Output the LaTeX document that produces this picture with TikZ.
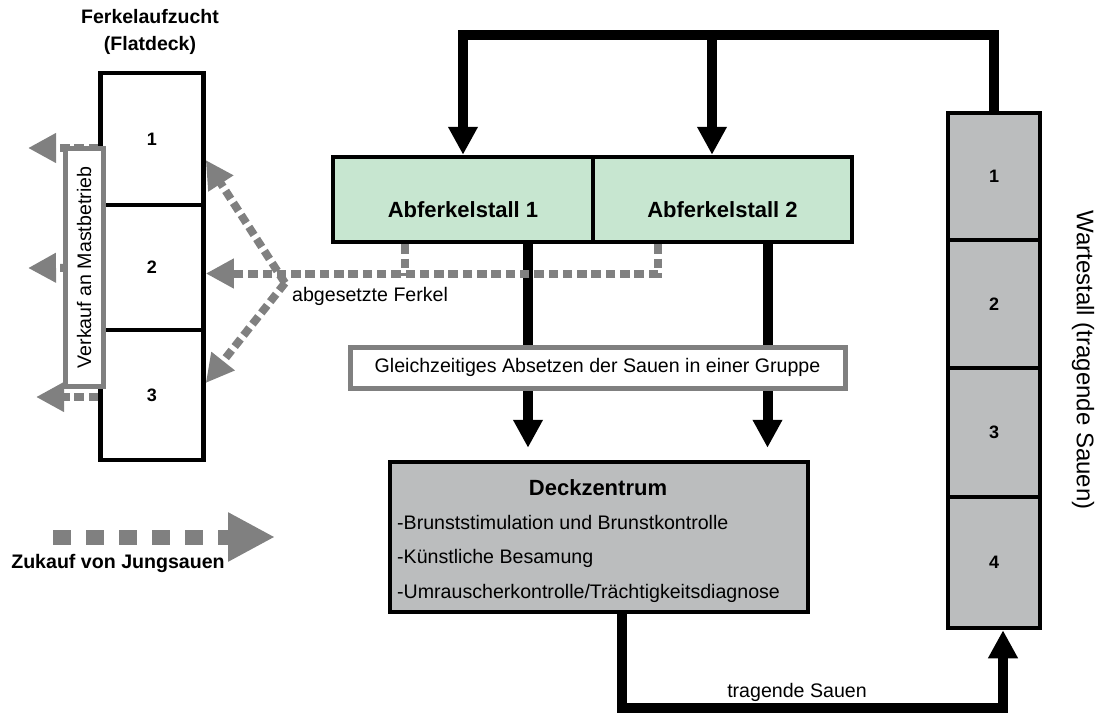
\documentclass[tikz,border=0pt]{standalone}
\usepackage{fontspec}
\setmainfont{Liberation Sans}
\usepackage{tikz}
\usetikzlibrary{arrows.meta}
\usepackage{xcolor}
\definecolor{stallgreen}{RGB}{199,230,208}
\definecolor{stallgrey}{RGB}{187,189,190}
\newcommand{\flowgrey}{black!50}
\newcommand{\textsmall}{\fontsize{19.6}{22}\selectfont}
\newcommand{\textbig}{\fontsize{22}{25}\selectfont}

\begin{document}
\begin{tikzpicture}[x=1pt,y=-1pt,inner sep=0pt,>={Triangle[length=28pt,width=28pt]}]
    \tikzstyle{cell}=[draw=black,line width=4.5pt,rectangle]
    \tikzstyle{flow}=[draw=black,line width=10pt]
    \tikzstyle{greyflow}=[draw=\flowgrey,line width=8pt,dash pattern=on 9.5pt off 4.8pt]
    \tikzset{greybox/.style={draw=\flowgrey,line width=5pt,fill=white}}
    \tikzset{number/.style={font=\fontsize{18}{20}\selectfont\bfseries}}
    \useasboundingbox (0,0) rectangle (1100,716);

    % Flatdeck
    \node[align=center,font=\fontsize{19.5}{27}\selectfont\bfseries] (flatdeck) at (150,32) {Ferkelaufzucht\\(Flatdeck)};
    \node[cell,minimum width=103,minimum height=132,number] (fd1) at (152,139) {1};
    \node[cell,minimum width=103,minimum height=125,number] (fd2) at (152,267.5) {2};
    \node[cell,minimum width=103,minimum height=130,number] (fd3) at (152,395) {3};

    % Abferkelstall
    \node[cell,fill=stallgreen,minimum width=260,minimum height=85,text height=36pt,text depth=0pt,font=\textbig\bfseries] (af1) at (463,199.5) {Abferkelstall 1};
    \node[cell,fill=stallgreen,minimum width=259,minimum height=85,text height=36pt,text depth=0pt,font=\textbig\bfseries] (af2) at (722.5,199.5) {Abferkelstall 2};

    % Wartestall
    \node[cell,fill=stallgrey,minimum width=92,minimum height=127,number] (ws1) at (994,176.5) {1};
    \node[cell,fill=stallgrey,minimum width=92,minimum height=128,number] (ws2) at (994,304) {2};
    \node[cell,fill=stallgrey,minimum width=92,minimum height=129,number] (ws3) at (994,432.5) {3};
    \node[cell,fill=stallgrey,minimum width=92,minimum height=131,number] (ws4) at (994,562.5) {4};
    \node[rotate=-90,font=\fontsize{24}{27}\selectfont] (warte) at (1083,360) {Wartestall (tragende Sauen)};

    % Deckzentrum
    \node[cell,fill=stallgrey,minimum width=418,minimum height=150] (deck) at (599,537) {};
    \node[font=\fontsize{22}{25}\selectfont\bfseries] (decktitle) at (598,488) {Deckzentrum};
    \node[anchor=west,font=\textsmall] (deck1) at (397,522) {-Brunststimulation und Brunstkontrolle};
    \node[anchor=west,font=\textsmall] (deck2) at (397,558) {-Künstliche Besamung};
    \node[anchor=west,font=\textsmall] (deck3) at (397,593) {-Umrauscherkontrolle/Trächtigkeitsdiagnose};

    % black flows
    \coordinate (top) at (712,35);
    \coordinate (bot) at (622,708);
    \draw[flow,->] (ws1.north) |- (top) -| (af1.north);
    \draw[flow,->] (top) -- (top |- af2.north);
    \draw[flow,->,shorten >=12pt] ([xshift=65pt]af1.south) -- ([xshift=65pt]af1.south |- deck.north);
    \draw[flow,->,shorten >=12pt] ([xshift=45pt]af2.south) -- ([xshift=45pt]af2.south |- deck.north);
    \draw[flow,->] ([xshift=23pt]deck.south) -- (bot) -| ([xshift=9pt]ws4.south);
    \node[font=\textsmall] (tragend) at (797,692) {tragende Sauen};

    \node[greybox,minimum width=495,minimum height=41,font=\textsmall] (absetzen) at (597.5,367.5) {Gleichzeitiges Absetzen der Sauen in einer Gruppe};

    % grey flows
    \coordinate (split) at (285,283);
    \draw[greyflow,->] ([xshift=-65pt]af2.south) |- ([yshift=-6pt]fd2.east);
    \draw[greyflow] ([xshift=-58pt]af1.south) -- ++(0,32);
    \draw[greyflow,->] (split) -- ([yshift=-21pt]fd1.east);
    \draw[greyflow,->] (split) -- ([yshift=12pt]fd3.east);
    \node[anchor=west,font=\textsmall] (ferkel) at (292,296) {abgesetzte Ferkel};

    \coordinate (sold1) at (28,148);
    \coordinate (sold2) at (28,268);
    \coordinate (sold3) at (36,397);
    \draw[greyflow,->] ([yshift=-9pt]fd1.west) -- (sold1);
    \draw[greyflow,->] (fd2.west) -- (sold2);
    \draw[greyflow,->] ([yshift=-2pt]fd3.west) -- (sold3);
    \node[greybox,rotate=90,minimum width=238,minimum height=38,font=\textsmall] (verkauf) at (84,267.5) {Verkauf an Mastbetrieb};

    % legend
    \coordinate (buy start) at (53,537);
    \coordinate (buy end) at (275,537);
    \draw[greyflow,line width=15pt,dash pattern=on 18pt off 15pt,-{Triangle[length=47pt,width=46pt]}] (buy start) -- (buy end);
    \node[font=\textsmall\bfseries] (zukauf) at (118,563) {Zukauf von Jungsauen};
\end{tikzpicture}
\end{document}
